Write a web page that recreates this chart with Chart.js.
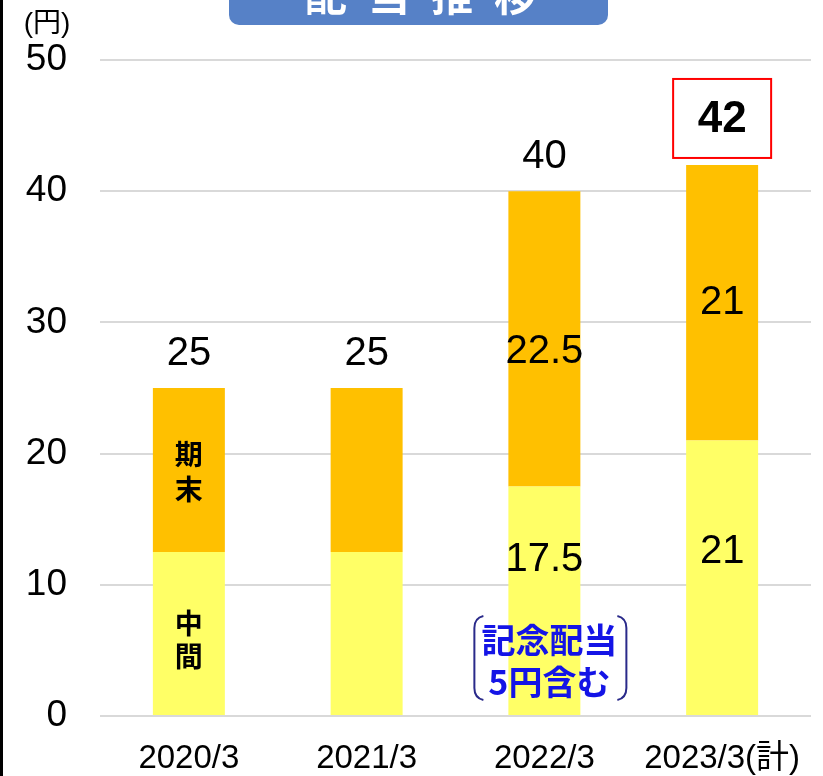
<!DOCTYPE html>
<html>
<head>
<meta charset="utf-8">
<script src="https://cdn.jsdelivr.net/npm/chart.js@4.4.1/dist/chart.umd.min.js"></script>
<style>
  html, body { margin: 0; padding: 0; background: #fff; }
  #divChart { display: block; }
</style>
</head>
<body>
<canvas id="divChart" width="823" height="776"></canvas>
<script>
// データ
const categories = ['2020/3', '2021/3', '2022/3', '2023/3(計)'];
const interim = [12.5, 12.5, 17.5, 21];   // 中間
const yearEnd = [12.5, 12.5, 22.5, 21];   // 期末
const totals = [25, 25, 40, 42];
const yTicks = [0, 10, 20, 30, 40, 50];
const showInner = [false, false, true, true];

const FONT = '"Liberation Sans", "Noto Sans CJK JP", Arial, sans-serif';
const CJK = '"Noto Sans CJK JP", "Liberation Sans", sans-serif';

// ラベル・装飾
const decoPlugin = {
  id: 'deco',
  afterDatasetsDraw(chart) {
    const ctx = chart.ctx;
    const y = chart.scales.y;
    const m0 = chart.getDatasetMeta(0).data;
    const m1 = chart.getDatasetMeta(1).data;
    ctx.save();
    ctx.textAlign = 'center';
    ctx.textBaseline = 'middle';
    ctx.fillStyle = '#000';

    // 合計
    totals.forEach((t, i) => {
      const bx = m1[i].x;
      const top = y.getPixelForValue(t);
      if (i === totals.length - 1) {
        ctx.font = 'bold 44px ' + FONT;
        const cy = top - 47;
        ctx.fillText(String(t), bx, cy + 2);
        ctx.strokeStyle = '#ff0000';
        ctx.lineWidth = 2;
        ctx.strokeRect(bx - 49, cy - 39, 98, 79);
      } else {
        ctx.font = '40px ' + FONT;
        ctx.fillText(String(t), bx, top - 34);
      }
    });

    // 内訳
    ctx.font = '40px ' + FONT;
    const innerOff0 = [0, 0, -41, -26];
    const innerOff1 = [0, 0, 13, 0];
    interim.forEach((v, i) => {
      if (!showInner[i]) return;
      const b = m0[i];
      ctx.fillText(String(v), b.x, (b.y + b.base) / 2 + innerOff0[i]);
      const c = m1[i];
      ctx.fillText(String(yearEnd[i]), c.x, (c.y + c.base) / 2 + innerOff1[i]);
    });

    // 期末 / 中間 (縦書き)
    ctx.font = 'bold 28px ' + CJK;
    const fx = m1[0].x;
    ctx.fillText('期', fx, 454);
    ctx.fillText('末', fx, 489);
    ctx.fillText('中', fx, 623);
    ctx.fillText('間', fx, 656);

    // 記念配当 注記
    const ax = m0[2].x + 5;
    ctx.fillStyle = '#1414e6';
    ctx.font = 'bold 34px ' + CJK;
    ctx.fillText('記念配当', ax, 640);
    ctx.fillText('5円含む', ax, 682);
    ctx.strokeStyle = '#2a2a8a';
    ctx.lineWidth = 2;
    ctx.beginPath();
    ctx.moveTo(ax - 66, 616);
    ctx.quadraticCurveTo(ax - 75, 618, ax - 75, 628);
    ctx.lineTo(ax - 75, 688);
    ctx.quadraticCurveTo(ax - 75, 698, ax - 66, 700);
    ctx.moveTo(ax + 68, 616);
    ctx.quadraticCurveTo(ax + 77, 618, ax + 77, 628);
    ctx.lineTo(ax + 77, 688);
    ctx.quadraticCurveTo(ax + 77, 698, ax + 68, 700);
    ctx.stroke();
    ctx.restore();
  },
  afterDraw(chart) {
    const ctx = chart.ctx;
    ctx.save();
    // 左端の線
    ctx.fillStyle = '#000';
    ctx.fillRect(0, 0, 3, 776);

    // タイトル
    ctx.fillStyle = '#5681c7';
    ctx.beginPath();
    ctx.roundRect(229, -40, 379, 65, 10);
    ctx.fill();
    ctx.fillStyle = '#fff';
    ctx.font = 'bold 42px ' + CJK;
    ctx.textAlign = 'center';
    ctx.textBaseline = 'middle';
    ['配', '当', '推', '移'].forEach((ch, i) => {
      ctx.fillText(ch, 326 + i * 63, -5);
    });

    // 単位
    ctx.fillStyle = '#000';
    ctx.font = '28px ' + FONT;
    ctx.fillText('(円)', 47, 24);
    ctx.restore();
  }
};

const chart = new Chart(document.getElementById('divChart').getContext('2d'), {
  type: 'bar',
  data: {
    labels: categories,
    datasets: [
      { label: '中間', data: interim, backgroundColor: '#ffff66', barPercentage: 1, categoryPercentage: 0.405 },
      { label: '期末', data: yearEnd, backgroundColor: '#ffc000', barPercentage: 1, categoryPercentage: 0.405 }
    ]
  },
  options: {
    responsive: false,
    animation: false,
    layout: { padding: { top: 60, right: 12, bottom: 0, left: 0 } },
    plugins: { legend: { display: false }, tooltip: { enabled: false } },
    scales: {
      x: {
        stacked: true,
        grid: { display: false, drawTicks: false },
        border: { display: false },
        ticks: { color: '#000', font: { family: FONT, size: 33, lineHeight: 1 }, padding: 26 },
        afterFit(scale) {
          scale.height = 60;
          scale.paddingLeft = 0;
          scale.paddingRight = 0;
        }
      },
      y: {
        stacked: true,
        min: yTicks[0],
        max: yTicks[yTicks.length - 1],
        afterBuildTicks(scale) { scale.ticks = yTicks.map(v => ({ value: v })); },
        grid: { color: '#d9d9d9', lineWidth: 2, drawTicks: false },
        border: { display: false },
        ticks: { color: '#000', font: { family: FONT, size: 37 }, padding: 33 },
        afterFit(scale) { scale.width = 100; }
      }
    }
  },
  plugins: [decoPlugin]
});
</script>
</body>
</html>
